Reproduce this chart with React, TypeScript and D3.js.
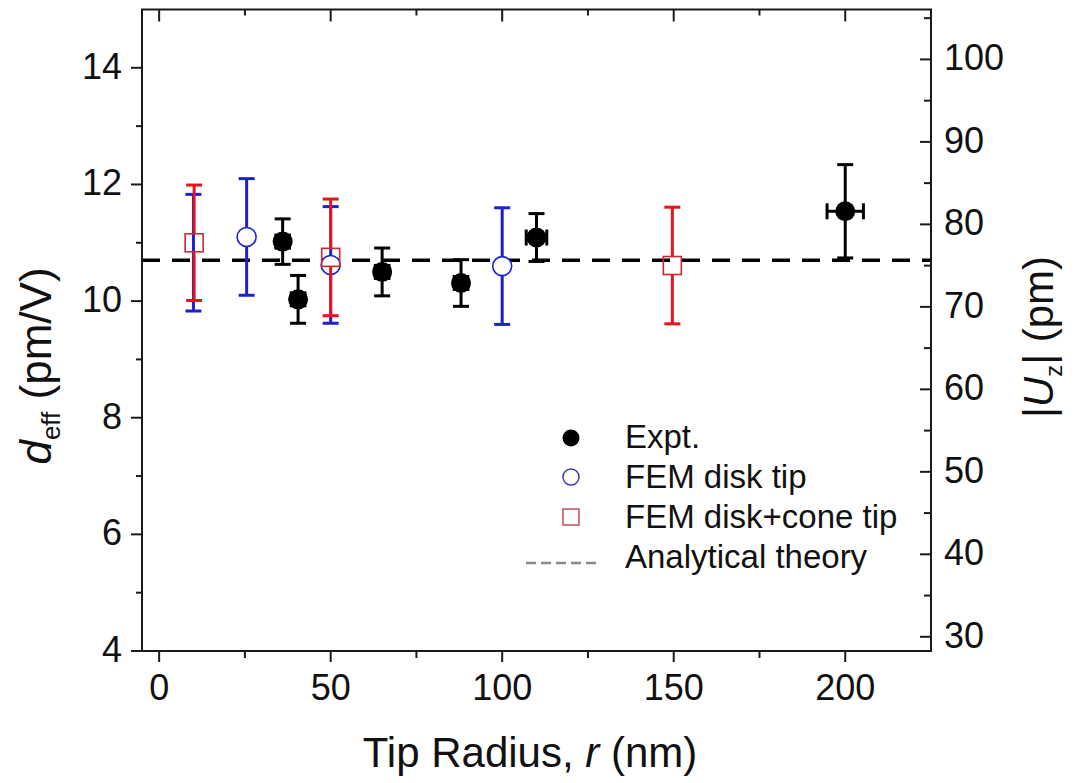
import React from "react";
import * as d3 from "d3";

// ---- data ----
const exptR = [36, 40.5, 65, 88, 110, 200];
const exptD = [11.02, 10.03, 10.5, 10.31, 11.09, 11.54];
const exptErr = [0.39, 0.41, 0.41, 0.4, 0.41, 0.8];
const exptRErr = [2, 2, 2, 2, 3, 5.3];

const diskR = [25.5, 50, 100];
const diskD = [11.1, 10.62, 10.6];
const diskErr = [1.0, 1.0, 1.0];
// disk-tip point at r = 10 whose marker is hidden behind the square
const diskHiddenR = [10];
const diskHiddenD = [10.83];
const diskHiddenErr = [1.0];

const coneR = [10.2, 50, 149.6];
const coneD = [11.0, 10.75, 10.61];
const coneErr = [0.99, 1.0, 1.0];

const theoryD = 10.7;

const xMajor = [0, 50, 100, 150, 200];
const xMinor = [25, 75, 125, 175];
const yMajor = [4, 6, 8, 10, 12, 14];
const yMinor = [5, 7, 9, 11, 13];
const yRMajor = [30, 40, 50, 60, 70, 80, 90, 100];
const yRMinor = [35, 45, 55, 65, 75, 85, 95, 105];
const voltFactor = 7.07;

const legendItems = ["Expt.", "FEM disk tip", "FEM disk+cone tip", "Analytical theory"];

const FONT = "'Liberation Sans', Arial, Helvetica, sans-serif";
const RED = "#e3161d";
const BLUE = "#1f1fd2";

export default function App() {
  const W = 1078, H = 783;
  const x = d3.scaleLinear().domain([-5, 225]).range([142, 931]);
  const y = d3.scaleLinear().domain([4, 15]).range([651, 9.5]);
  const yR = d3.scaleLinear().domain([4 * voltFactor, 15 * voltFactor]).range([651, 9.5]);
  const [x0, x1] = x.range();
  const [yb, yt] = y.range();
  const cap = 8;

  const vBar = (cx: number, lo: number, hi: number, color: string, gap: number, key: string, sw = 3) => {
    const cy = (lo + hi) / 2;
    return (
      <g key={key} stroke={color} strokeWidth={sw} fill="none">
        {gap > 0 ? (
          <>
            <line x1={cx} x2={cx} y1={hi} y2={Math.min(lo, markerY(cy) - gap)} />
            <line x1={cx} x2={cx} y1={lo} y2={Math.max(hi, markerY(cy) + gap)} />
          </>
        ) : (
          <line x1={cx} x2={cx} y1={hi} y2={lo} />
        )}
        <line x1={cx - cap} x2={cx + cap} y1={hi} y2={hi} />
        <line x1={cx - cap} x2={cx + cap} y1={lo} y2={lo} />
      </g>
    );
  };
  function markerY(v: number) {
    return v;
  }

  return (
    <svg width={W} height={H} style={{ position: "absolute", left: 0, top: 0, background: "#fff" }} fontFamily={FONT}>
      {/* theory dashed line */}
      <line x1={x0} x2={x1} y1={y(theoryD)} y2={y(theoryD)} stroke="#000" strokeWidth={3.5} strokeDasharray="18,12" />

      {/* hidden disk-tip bar at r=10 */}
      {diskHiddenR.map((r, i) =>
        vBar(x(r), y(diskHiddenD[i] - diskHiddenErr[i]), y(diskHiddenD[i] + diskHiddenErr[i]), BLUE, 0, "dh" + i)
      )}

      {/* FEM disk tip */}
      {diskR.map((r, i) => (
        <g key={"d" + i}>
          {vBar(x(r), y(diskD[i] - diskErr[i]), y(diskD[i] + diskErr[i]), BLUE, 0, "db" + i)}
          <circle cx={x(r)} cy={y(diskD[i])} r={9.5} fill="#fff" stroke={BLUE} strokeWidth={1.6} />
        </g>
      ))}

      {/* FEM disk+cone tip */}
      {coneR.map((r, i) => {
        const cx = x(r), cy = y(coneD[i]);
        const hi = y(coneD[i] + coneErr[i]), lo = y(coneD[i] - coneErr[i]);
        return (
          <g key={"c" + i}>
            <g stroke={RED} strokeWidth={3}>
              <line x1={cx} x2={cx} y1={hi} y2={cy - 9} />
              <line x1={cx} x2={cx} y1={cy + 9} y2={lo} />
              <line x1={cx - cap} x2={cx + cap} y1={hi} y2={hi} />
              <line x1={cx - cap} x2={cx + cap} y1={lo} y2={lo} />
            </g>
            <rect x={cx - 9} y={cy - 9} width={18} height={18} fill="none" stroke="#c62a30" strokeWidth={1.6} />
          </g>
        );
      })}

      {/* Expt */}
      {exptR.map((r, i) => {
        const cx = x(r), cy = y(exptD[i]);
        const hi = y(exptD[i] + exptErr[i]), lo = y(exptD[i] - exptErr[i]);
        const xl = x(r - exptRErr[i]), xr = x(r + exptRErr[i]);
        return (
          <g key={"e" + i} stroke="#000" strokeWidth={3}>
            <line x1={cx} x2={cx} y1={hi} y2={lo} />
            <line x1={cx - cap} x2={cx + cap} y1={hi} y2={hi} />
            <line x1={cx - cap} x2={cx + cap} y1={lo} y2={lo} />
            <line x1={xl} x2={xr} y1={cy} y2={cy} />
            <line x1={xl} x2={xl} y1={cy - cap} y2={cy + cap} />
            <line x1={xr} x2={xr} y1={cy - cap} y2={cy + cap} />
            <circle cx={cx} cy={cy} r={10} fill="#000" stroke="none" />
          </g>
        );
      })}

      {/* frame */}
      <rect x={x0} y={yt} width={x1 - x0} height={yb - yt} fill="none" stroke="#1a1a1a" strokeWidth={2} />

      {/* bottom & top ticks */}
      <g stroke="#1a1a1a" strokeWidth={2}>
        {xMajor.map((t) => (
          <g key={"xb" + t}>
            <line x1={x(t)} x2={x(t)} y1={yb} y2={yb + 11} />
            <line x1={x(t)} x2={x(t)} y1={yt} y2={yt + 12} />
          </g>
        ))}
        {xMinor.map((t) => (
          <g key={"xm" + t}>
            <line x1={x(t)} x2={x(t)} y1={yb} y2={yb + 7} />
            <line x1={x(t)} x2={x(t)} y1={yt} y2={yt + 6} />
          </g>
        ))}
        {yMajor.map((t) => (
          <line key={"yl" + t} x1={x0 - 11} x2={x0} y1={y(t)} y2={y(t)} />
        ))}
        {yMinor.map((t) => (
          <line key={"ym" + t} x1={x0 - 6} x2={x0} y1={y(t)} y2={y(t)} />
        ))}
        {yRMajor.map((t) => (
          <line key={"yr" + t} x1={x1 - 11} x2={x1} y1={yR(t)} y2={yR(t)} />
        ))}
        {yRMinor.map((t) => (
          <line key={"yrm" + t} x1={x1 - 7} x2={x1} y1={yR(t)} y2={yR(t)} />
        ))}
      </g>

      {/* tick labels */}
      <g fontSize={36} fill="#111">
        {xMajor.map((t) => (
          <text key={"xt" + t} x={x(t)} y={700} textAnchor="middle">{t}</text>
        ))}
        {yMajor.map((t) => (
          <text key={"yt" + t} x={122} y={y(t) + 11} textAnchor="end">{t}</text>
        ))}
        {yRMajor.map((t) => (
          <text key={"yrt" + t} x={944} y={yR(t) + 11} textAnchor="start">{t}</text>
        ))}
      </g>

      {/* axis titles */}
      <text x={530} y={767} fontSize={42} textAnchor="middle" fill="#111">
        Tip Radius, <tspan fontStyle="italic">r</tspan> (nm)
      </text>
      <text transform="translate(51,366) rotate(-90)" fontSize={44} textAnchor="middle" fill="#111">
        <tspan fontStyle="italic">d</tspan>
        <tspan fontSize={26} dy={9}>eff</tspan>
        <tspan dy={-9}> (pm/V)</tspan>
      </text>
      <text transform="translate(1053,337) rotate(-90)" fontSize={42} textAnchor="middle" fill="#111">
        |<tspan fontStyle="italic">U</tspan>
        <tspan fontSize={24} dy={9}>z</tspan>
        <tspan dy={-9}>| (pm)</tspan>
      </text>

      {/* legend */}
      <g fontSize={33} fill="#111">
        <circle cx={571} cy={438} r={8.5} fill="#000" />
        <circle cx={571} cy={477} r={8} fill="#fff" stroke="#3a3ab4" strokeWidth={1.5} />
        <rect x={563} y={509} width={16} height={16} fill="#fff" stroke="#c05060" strokeWidth={1.5} />
        <line x1={526} x2={598} y1={563} y2={563} stroke="#8a8a8a" strokeWidth={2.5} strokeDasharray="10,5" />
        {legendItems.map((s, i) => (
          <text key={s} x={625} y={448 + i * 40}>{s}</text>
        ))}
      </g>
    </svg>
  );
}
